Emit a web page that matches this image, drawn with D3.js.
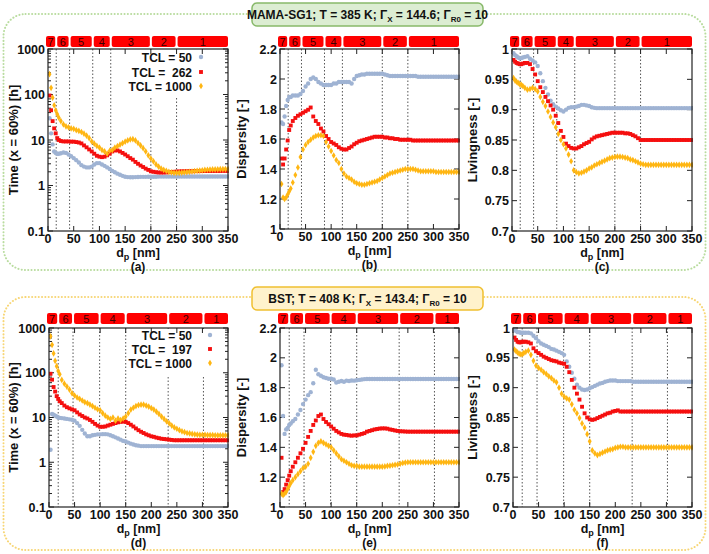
<!DOCTYPE html>
<html><head><meta charset="utf-8">
<script src="https://cdn.jsdelivr.net/npm/d3@7/dist/d3.min.js"></script>
<style>body{margin:0;background:#fff}svg{display:block}text{font-family:"Liberation Sans",Arial,sans-serif}</style>
</head><body>
<svg id="c" width="709" height="554"></svg>
<script>
// ---------- data ----------
const dp = [3,6,9,12,15,18,21,25,30,35,40,45,50,55,60,65,70,75,80,85,90,95,100,105,110,115,120,125,130,135,140,145,150,155,160,165,170,175,180,185,190,195,200,205,210,215,220,225,230,235,240,245,250,255,260,265,270,275,280,285,290,295,300,305,310,315,320,325,330,335,340,345,350];

const zoneLabels = ["7","6","5","4","3","2","1"];
const zonesTop = [0,16,42,87,122,200,250,350];
const zonesBottom = [0,18,47,99,150,233,302,350];

const legendTop = ["TCL = 50","TCL =  262","TCL = 1000"];
const legendBottom = ["TCL = 50","TCL =  197","TCL = 1000"];

const titleTop = ["MAMA-SG1; T = 385 K; Γ","X"," = 144.6; Γ","R0"," = 10"];
const titleBottom = ["BST; T = 408 K; Γ","X"," = 143.4; Γ","R0"," = 10"];

const xTicks = [0,50,100,150,200,250,300,350];
const logTicks = [0.1,1,10,100,1000];
const logTickLabels = ["0.1","1","10","100","1000"];
const dispTicks = [1,1.2,1.4,1.6,1.8,2,2.2];
const dispTickLabels = ["1","1.2","1.4","1.6","1.8","2","2.2"];
const livTicks = [0.7,0.75,0.8,0.85,0.9,0.95,1];
const livTickLabels = ["0.7","0.75","0.8","0.85","0.9","0.95","1"];

// (a) time, MAMA-SG1
const timeA_50 = [30,14,8,5.6,5.2,5.0,5.0,5.1,5.3,5.2,
 4.8,4.4,4.0,3.6,3.2,2.8,2.6,2.5,2.5,2.6,
 2.9,3.1,3.1,2.9,2.7,2.5,2.3,2.1,1.95,1.82,
 1.72,1.63,1.56,1.53,1.52,1.52,1.53,1.54,1.55,1.55,
 1.55,1.56,1.56,1.56,1.56,1.57,1.57,1.57,1.57,1.57,
 1.57,1.58,1.58,1.58,1.58,1.58,1.58,1.58,1.58,1.58,
 1.58,1.58,1.58,1.58,1.58,1.58,1.58,1.58,1.58,1.58,
 1.58,1.58,1.58];
const timeA_262 = [95,45,26,18,14,11,10,9.5,9.3,9.3,
 9.3,9.2,9.2,9.0,8.8,8.4,7.6,6.9,6.2,5.6,
 5.0,4.5,4.3,4.2,4.3,4.6,5.0,5.6,5.9,5.9,
 5.6,5.2,4.8,4.4,4.0,3.7,3.3,3.0,2.75,2.55,
 2.35,2.2,2.05,2.0,1.96,1.93,1.93,1.93,1.94,1.96,
 1.98,2.0,2.02,2.04,2.05,2.05,2.06,2.06,2.06,2.07,
 2.07,2.07,2.08,2.08,2.08,2.08,2.09,2.09,2.09,2.09,
 2.1,2.1,2.1];
const timeA_1000 = [280,140,85,58,45,37,31,26,22,20,
 19,18,17.5,16.5,15.8,15,13.8,12.5,11,9.3,
 8.3,7.4,6.8,6.0,5.6,5.0,5.8,6.0,6.8,7.3,
 7.9,8.5,9.2,9.8,10.3,10.4,9.8,8.6,7.6,6.6,
 5.6,4.6,3.9,3.4,2.9,2.6,2.35,2.2,2.1,2.0,
 1.95,1.9,1.9,1.9,1.92,1.95,1.97,2.0,2.03,2.06,
 2.1,2.13,2.16,2.2,2.22,2.24,2.25,2.26,2.27,2.28,
 2.28,2.3,2.3];

// (b) dispersity, MAMA-SG1
const dispB_50 = [1.71,1.70,1.75,1.82,1.86,1.88,1.88,1.89,1.89,1.89,
 1.90,1.92,1.95,1.97,2.0,2.01,2.0,1.98,1.97,1.96,
 1.96,1.96,1.96,1.97,1.97,1.98,1.98,1.98,1.98,1.98,
 1.97,2.0,2.02,2.025,2.03,2.03,2.035,2.035,2.035,2.035,
 2.035,2.035,2.035,2.03,2.025,2.02,2.02,2.02,2.02,2.02,
 2.02,2.02,2.02,2.02,2.02,2.02,2.015,2.015,2.015,2.015,
 2.015,2.015,2.015,2.015,2.015,2.015,2.015,2.015,2.015,2.015,
 2.015,2.015,2.015];
const dispB_262 = [1.47,1.43,1.47,1.53,1.59,1.66,1.69,1.72,1.74,1.755,
 1.765,1.775,1.785,1.795,1.81,1.75,1.72,1.70,1.67,1.65,
 1.62,1.60,1.58,1.57,1.56,1.545,1.535,1.53,1.53,1.54,
 1.55,1.565,1.575,1.585,1.59,1.595,1.60,1.605,1.61,1.615,
 1.615,1.615,1.615,1.61,1.61,1.605,1.605,1.60,1.60,1.595,
 1.595,1.595,1.595,1.595,1.59,1.59,1.59,1.59,1.59,1.59,
 1.59,1.59,1.59,1.59,1.59,1.59,1.59,1.59,1.59,1.59,
 1.59,1.59,1.59];
const dispB_1000 = [1.30,1.21,1.20,1.21,1.23,1.25,1.27,1.31,1.36,1.41,
 1.48,1.53,1.56,1.58,1.595,1.61,1.62,1.625,1.625,1.62,
 1.58,1.55,1.52,1.49,1.46,1.44,1.40,1.37,1.35,1.34,
 1.33,1.315,1.305,1.30,1.295,1.295,1.30,1.305,1.31,1.315,
 1.32,1.33,1.34,1.35,1.36,1.37,1.375,1.38,1.385,1.39,
 1.395,1.40,1.40,1.40,1.40,1.395,1.39,1.385,1.385,1.385,
 1.385,1.385,1.385,1.38,1.38,1.38,1.38,1.38,1.38,1.38,
 1.38,1.38,1.38];

// (c) livingness, MAMA-SG1
const livC_50 = [0.993,0.99,0.988,0.986,0.985,0.985,0.986,0.987,0.988,0.984,
 0.981,0.978,0.972,0.96,0.947,0.936,0.925,0.915,0.909,0.905,
 0.902,0.899,0.897,0.9,0.903,0.904,0.904,0.905,0.906,0.908,
 0.908,0.907,0.906,0.904,0.903,0.9025,0.9025,0.9025,0.9025,0.9025,
 0.9025,0.9025,0.9025,0.9025,0.9025,0.9025,0.9025,0.9025,0.9025,0.9025,
 0.9025,0.9025,0.9025,0.9025,0.9025,0.9025,0.9025,0.9025,0.9025,0.9025,
 0.9025,0.9025,0.9025,0.9025,0.9025,0.9025,0.9025,0.9025,0.9025,0.9025,
 0.9025,0.9025,0.9025];
const livC_262 = [0.982,0.979,0.977,0.976,0.975,0.975,0.976,0.977,0.977,0.975,
 0.967,0.958,0.947,0.937,0.929,0.921,0.914,0.907,0.900,0.890,
 0.878,0.865,0.855,0.844,0.840,0.837,0.836,0.836,0.838,0.840,
 0.843,0.845,0.847,0.851,0.854,0.856,0.857,0.858,0.859,0.86,
 0.861,0.862,0.862,0.862,0.862,0.862,0.861,0.861,0.86,0.858,
 0.856,0.853,0.85,0.85,0.85,0.85,0.85,0.85,0.85,0.85,
 0.85,0.85,0.85,0.85,0.85,0.85,0.85,0.85,0.85,0.85,
 0.85,0.85,0.85];
const livC_1000 = [0.952,0.948,0.946,0.944,0.942,0.941,0.939,0.936,0.933,0.934,
 0.936,0.934,0.93,0.921,0.913,0.906,0.897,0.888,0.879,0.871,
 0.86,0.85,0.843,0.836,0.826,0.815,0.80,0.797,0.795,0.796,
 0.798,0.80,0.803,0.805,0.808,0.81,0.812,0.814,0.816,0.818,
 0.82,0.821,0.822,0.8225,0.8225,0.822,0.821,0.82,0.818,0.817,
 0.815,0.813,0.811,0.81,0.809,0.809,0.809,0.809,0.809,0.809,
 0.809,0.809,0.809,0.809,0.809,0.809,0.809,0.809,0.809,0.809,
 0.809,0.809,0.809];

// (d) time, BST
const timeD_50 = [1.9,12,11.5,11,10.5,10,9.8,9.7,9.5,9.3,
 9.1,8.9,8.5,7.5,6.5,5.3,4.4,3.8,3.8,4.0,
 4.1,4.2,4.2,4.25,4.25,4.2,4.0,3.8,3.6,3.4,
 3.2,3.0,2.9,2.75,2.6,2.5,2.4,2.35,2.3,2.3,
 2.3,2.3,2.3,2.3,2.3,2.3,2.3,2.3,2.3,2.3,
 2.3,2.3,2.3,2.3,2.3,2.3,2.3,2.3,2.3,2.3,
 2.3,2.3,2.3,2.3,2.3,2.3,2.3,2.3,2.3,2.3,
 2.3,2.3,2.3];
const timeD_197 = [95,70,48,38,30,26,23,21,18.5,17,
 16,15.2,14.5,13,11.7,10.8,10,9.5,8.8,8,
 7.2,6.6,6.2,6.2,6.3,6.6,6.9,7.2,7.5,7.8,
 8.0,8.1,8.0,7.5,6.9,6.3,5.7,5.2,4.8,4.5,
 4.2,4.0,3.8,3.7,3.55,3.45,3.35,3.3,3.25,3.2,
 3.15,3.1,3.1,3.1,3.1,3.1,3.1,3.1,3.1,3.1,
 3.1,3.1,3.1,3.1,3.1,3.1,3.1,3.1,3.1,3.1,
 3.1,3.1,3.1];
const timeD_1000 = [650,420,270,185,140,110,92,69,57,49,
 42,35,31,28,26,24,22,21,19.5,18,
 16.5,15.3,14.5,12.5,11,10,9.3,10,8.5,9.5,
 8.8,9.5,10.5,12.5,15,16.5,18,19,19.3,19.3,
 18.5,17.5,16.2,15,13.5,12,10.5,9.3,8.2,7.4,
 6.6,6.0,5.6,5.2,4.9,4.7,4.5,4.4,4.3,4.2,
 4.15,4.1,4.1,4.1,4.05,4.05,4.05,4.0,4.0,4.0,
 4.0,4.0,4.0];

// (e) dispersity, BST
const dispE_50 = [1.95,1.61,1.49,1.52,1.53,1.55,1.56,1.575,1.59,1.62,
 1.65,1.69,1.72,1.75,1.77,1.83,1.92,1.89,1.88,1.87,
 1.865,1.86,1.86,1.855,1.835,1.84,1.845,1.84,1.847,1.845,
 1.848,1.847,1.85,1.852,1.855,1.857,1.858,1.858,1.858,1.858,
 1.858,1.858,1.858,1.858,1.858,1.858,1.858,1.858,1.858,1.858,
 1.858,1.858,1.858,1.858,1.858,1.858,1.858,1.858,1.858,1.858,
 1.858,1.858,1.858,1.858,1.858,1.858,1.858,1.858,1.858,1.858,
 1.858,1.858,1.858];
const dispE_197 = [1.33,1.10,1.12,1.15,1.18,1.21,1.24,1.27,1.30,1.33,
 1.36,1.39,1.43,1.47,1.51,1.55,1.58,1.61,1.62,1.59,
 1.57,1.555,1.54,1.525,1.51,1.50,1.49,1.485,1.483,1.48,
 1.478,1.48,1.48,1.485,1.49,1.495,1.505,1.51,1.515,1.52,
 1.523,1.526,1.527,1.527,1.525,1.52,1.517,1.513,1.51,1.508,
 1.507,1.506,1.505,1.505,1.505,1.505,1.505,1.505,1.505,1.505,
 1.505,1.505,1.505,1.505,1.505,1.505,1.505,1.505,1.505,1.505,
 1.505,1.505,1.505];
const dispE_1000 = [1.09,1.08,1.09,1.10,1.12,1.14,1.16,1.18,1.20,1.22,
 1.24,1.26,1.27,1.29,1.33,1.37,1.41,1.43,1.44,1.43,
 1.42,1.41,1.40,1.38,1.36,1.34,1.32,1.31,1.30,1.29,
 1.28,1.275,1.275,1.27,1.27,1.27,1.27,1.27,1.27,1.27,
 1.27,1.27,1.27,1.272,1.275,1.277,1.28,1.283,1.285,1.29,
 1.295,1.298,1.30,1.30,1.30,1.30,1.30,1.30,1.30,1.30,
 1.30,1.30,1.30,1.30,1.30,1.30,1.30,1.30,1.30,1.30,
 1.30,1.30,1.30];

// (f) livingness, BST
const livF_50 = [0.997,0.995,0.993,0.993,0.992,0.992,0.992,0.992,0.992,0.991,
 0.987,0.983,0.978,0.974,0.972,0.97,0.968,0.965,0.964,0.962,
 0.96,0.958,0.955,0.944,0.935,0.925,0.915,0.905,0.9,0.897,
 0.896,0.897,0.899,0.901,0.903,0.905,0.907,0.908,0.91,0.911,
 0.912,0.912,0.912,0.911,0.911,0.911,0.911,0.911,0.911,0.91,
 0.91,0.91,0.91,0.91,0.91,0.91,0.91,0.91,0.91,0.91,
 0.91,0.91,0.91,0.91,0.91,0.91,0.91,0.91,0.91,0.91,
 0.91,0.91,0.91];
const livF_197 = [0.984,0.98,0.977,0.976,0.976,0.977,0.977,0.977,0.976,0.974,
 0.966,0.961,0.958,0.955,0.952,0.95,0.948,0.946,0.945,0.944,
 0.942,0.941,0.94,0.935,0.926,0.913,0.9,0.89,0.88,0.868,
 0.857,0.85,0.847,0.846,0.847,0.849,0.851,0.853,0.855,0.857,
 0.858,0.86,0.861,0.862,0.86,0.86,0.86,0.86,0.86,0.86,
 0.86,0.86,0.86,0.86,0.86,0.86,0.86,0.86,0.86,0.86,
 0.86,0.86,0.86,0.86,0.86,0.86,0.86,0.86,0.86,0.86,
 0.86,0.86,0.86];
const livF_1000 = [0.964,0.961,0.959,0.957,0.956,0.956,0.958,0.96,0.962,0.955,
 0.945,0.937,0.933,0.93,0.926,0.923,0.919,0.916,0.912,0.909,
 0.9,0.89,0.885,0.882,0.88,0.872,0.863,0.857,0.849,0.84,
 0.833,0.822,0.81,0.795,0.79,0.787,0.789,0.791,0.793,0.795,
 0.796,0.797,0.799,0.8,0.801,0.801,0.8,0.8,0.8,0.8,
 0.8,0.8,0.8,0.8,0.8,0.8,0.8,0.8,0.8,0.8,
 0.8,0.8,0.8,0.8,0.8,0.8,0.8,0.8,0.8,0.8,
 0.8,0.8,0.8];

// ---------- styling ----------
const colors = ["#9fb3d3","#f50f0f","#ffb612"];
const symbols = [d3.symbolCircle, d3.symbolSquare, d3.symbolDiamond];
const symSize = [15, 15, 13];

const svg = d3.select("#c");

function frame(y, h, stroke, fill, boxStroke, title, boxY){
  svg.append("rect").attr("x",3.5).attr("y",y).attr("width",702).attr("height",h)
    .attr("rx",22).attr("fill","none").attr("stroke",stroke).attr("stroke-width",2)
    .attr("stroke-dasharray","0.1,3.2").attr("stroke-linecap","round");
  svg.append("rect").attr("x",252).attr("y",boxY).attr("width",231).attr("height",23)
    .attr("rx",5).attr("fill",fill).attr("stroke",boxStroke).attr("stroke-width",1.5);
  const t = svg.append("text").attr("x",367.5).attr("y",boxY+16).attr("text-anchor","middle")
    .attr("font-size",12).attr("font-weight","bold").attr("fill","#111");
  title.forEach((s,i)=>{
    const ts = t.append("tspan").text(s);
    if(i%2===1){ ts.attr("font-size",8).attr("dy",3); }
    else if(i>0){ ts.attr("dy",-3); }
  });
}
frame(14, 256, "#b9dc9f", "#dcedd2", "#88b96a", titleTop, 3);
frame(297, 253, "#f7d676", "#fff2cc", "#f0c030", titleBottom, 287);

const panels = [
 {x0:48,x1:228,y0:49,y1:231,kind:"log",yl:"Time (x = 60%) [h]",s:[timeA_50,timeA_262,timeA_1000],z:zonesTop,zy:36,leg:legendTop,lx:192,lm:201,ly:[57,72,86],lb:[124,50,103,46],tag:"(a)",ylx:18},
 {x0:280,x1:459,y0:49,y1:229,kind:"disp",yl:"Dispersity [-]",s:[dispB_50,dispB_262,dispB_1000],z:zonesTop,zy:36,tag:"(b)",ylx:246},
 {x0:512,x1:692,y0:49,y1:231,kind:"liv",yl:"Livingness [-]",s:[livC_50,livC_262,livC_1000],z:zonesTop,zy:36,tag:"(c)",ylx:477},
 {x0:49,x1:228,y0:328,y1:507,kind:"log",yl:"Time (x = 60%) [h]",s:[timeD_50,timeD_197,timeD_1000],z:zonesBottom,zy:313,leg:legendBottom,lx:192,lm:210,ly:[335,349,363],lb:[130,329,97,47],tag:"(d)",ylx:18},
 {x0:280,x1:459,y0:328,y1:507,kind:"disp",yl:"Dispersity [-]",s:[dispE_50,dispE_197,dispE_1000],z:zonesBottom,zy:313,tag:"(e)",ylx:246},
 {x0:513,x1:692,y0:328,y1:507,kind:"liv",yl:"Livingness [-]",s:[livF_50,livF_197,livF_1000],z:zonesBottom,zy:313,tag:"(f)",ylx:477}
];

panels.forEach((p,pi)=>{
  const g = svg.append("g");
  const x = d3.scaleLinear().domain([0,350]).range([p.x0,p.x1]);
  let y, ticks, labels;
  if(p.kind==="log"){ y=d3.scaleLog().domain([0.1,1000]).range([p.y1,p.y0]); ticks=logTicks; labels=logTickLabels; }
  else if(p.kind==="disp"){ y=d3.scaleLinear().domain([1,2.2]).range([p.y1,p.y0]); ticks=dispTicks; labels=dispTickLabels; }
  else { y=d3.scaleLinear().domain([0.7,1]).range([p.y1,p.y0]); ticks=livTicks; labels=livTickLabels; }

  // zone bars
  for(let i=0;i<7;i++){
    const a = x(p.z[i]) + (i===0?-2:1), b = x(p.z[i+1]) - (i===6?0:1);
    g.append("rect").attr("x",a).attr("y",p.zy).attr("width",b-a).attr("height",11)
      .attr("rx",2).attr("fill","#ff0000");
    g.append("text").attr("x",(a+b)/2).attr("y",p.zy+9.5).attr("text-anchor","middle")
      .attr("font-family","'Liberation Serif','Times New Roman',serif").attr("font-size",11)
      .attr("fill","#3a0000").text(zoneLabels[i]);
  }
  // dashed boundaries
  for(let i=1;i<7;i++){
    g.append("line").attr("x1",x(p.z[i])).attr("x2",x(p.z[i])).attr("y1",p.y0).attr("y2",p.y1)
      .attr("stroke","#555").attr("stroke-width",1).attr("stroke-dasharray","1.5,2");
  }
  // legend background
  if(p.leg){
    g.append("rect").attr("x",p.lb[0]).attr("y",p.lb[1]).attr("width",p.lb[2]).attr("height",p.lb[3]).attr("fill","#fff");
  }
  // ticks
  const tk = g.append("g").attr("stroke","#222").attr("stroke-width",1);
  xTicks.forEach(v=>{
    tk.append("line").attr("x1",x(v)).attr("x2",x(v)).attr("y1",p.y1).attr("y2",p.y1-5);
    tk.append("line").attr("x1",x(v)).attr("x2",x(v)).attr("y1",p.y0).attr("y2",p.y0+5);
  });
  ticks.forEach(v=>{
    tk.append("line").attr("x1",p.x0).attr("x2",p.x0+5).attr("y1",y(v)).attr("y2",y(v));
    tk.append("line").attr("x1",p.x1).attr("x2",p.x1-5).attr("y1",y(v)).attr("y2",y(v));
  });
  if(p.kind==="log"){
    for(let d=0.1; d<1000; d*=10){
      for(let m=2;m<10;m++){
        const v=d*m;
        tk.append("line").attr("x1",p.x0).attr("x2",p.x0+3).attr("y1",y(v)).attr("y2",y(v));
        tk.append("line").attr("x1",p.x1).attr("x2",p.x1-3).attr("y1",y(v)).attr("y2",y(v));
      }
    }
  }
  // data
  const clipId = "clip"+pi;
  svg.append("clipPath").attr("id",clipId).append("rect")
    .attr("x",p.x0).attr("y",p.y0-3).attr("width",p.x1-p.x0+1).attr("height",p.y1-p.y0+3);
  const dg = g.append("g").attr("clip-path","url(#"+clipId+")");
  p.s.forEach((arr,si)=>{
    const sym = d3.symbol().type(symbols[si]).size(symSize[si]);
    dg.selectAll(null).data(arr.map((v,i)=>[dp[i],v])).enter().append("path")
      .attr("d",sym).attr("fill",colors[si])
      .attr("transform",d=>"translate("+x(d[0])+","+y(d[1])+")");
  });
  // border
  g.append("rect").attr("x",p.x0).attr("y",p.y0).attr("width",p.x1-p.x0).attr("height",p.y1-p.y0)
    .attr("fill","none").attr("stroke","#222").attr("stroke-width",1.2);
  // tick labels
  xTicks.forEach(v=>{
    g.append("text").attr("x",x(v)).attr("y",p.y1+12).attr("text-anchor","middle")
      .attr("font-size",12.5).attr("font-weight","bold").attr("fill","#111").text(v);
  });
  ticks.forEach((v,i)=>{
    g.append("text").attr("x",p.x0-3).attr("y",y(v)+4.5).attr("text-anchor","end")
      .attr("font-size",12.5).attr("font-weight","bold").attr("fill","#111").text(labels[i]);
  });
  // axis labels
  const xl = g.append("text").attr("x",(p.x0+p.x1)/2).attr("y",p.y1+26).attr("text-anchor","middle")
    .attr("font-size",12.5).attr("font-weight","bold").attr("fill","#111");
  xl.append("tspan").text("d");
  xl.append("tspan").attr("font-size",9).attr("dy",2.5).text("p");
  xl.append("tspan").attr("dy",-2.5).text(" [nm]");
  g.append("text").attr("x",(p.x0+p.x1)/2).attr("y",p.y1+39.5).attr("text-anchor","middle")
    .attr("font-size",12).attr("font-weight","bold").attr("fill","#111").text(p.tag);
  g.append("text").attr("transform","translate("+p.ylx+","+((p.y0+p.y1)/2)+") rotate(-90)")
    .attr("text-anchor","middle").attr("font-size",13).attr("font-weight","bold").attr("fill","#111").text(p.yl);
  // legend
  if(p.leg){
    p.leg.forEach((s,i)=>{
      g.append("text").attr("x",p.lx).attr("y",p.ly[i]+4.5).attr("text-anchor","end")
        .attr("font-size",12).attr("font-weight","bold").attr("fill","#111")
        .style("white-space","pre").text(s);
      g.append("path").attr("d",d3.symbol().type(symbols[i]).size(symSize[i]))
        .attr("fill",colors[i]).attr("transform","translate("+p.lm+","+p.ly[i]+")");
    });
  }
});
</script>
</body></html>
